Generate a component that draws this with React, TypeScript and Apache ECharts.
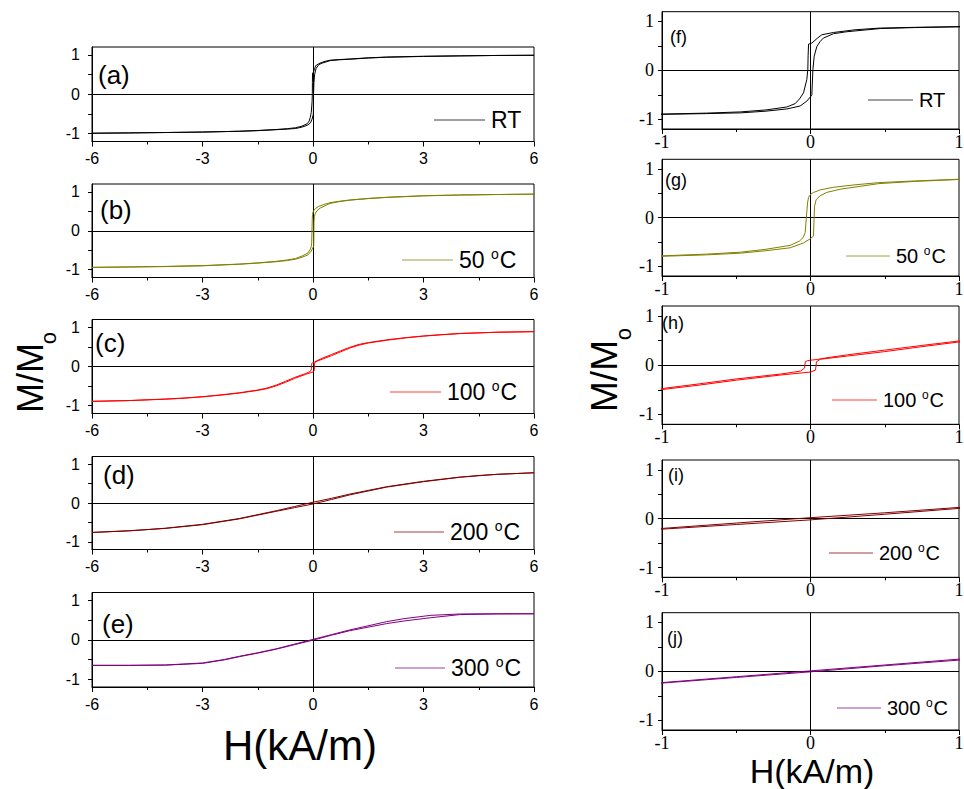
import React, { useEffect, useRef } from "react";
import * as echarts from "echarts";

type Pt = [number, number];

// ---------- data (H in kA/m, M/Mo) ----------
const rtUpper: Pt[] = [[6,0.99],[5,0.985],[4,0.975],[3,0.965],[2,0.945],[1.5,0.925],[1,0.895],[0.7,0.88],[0.46,0.864],[0.3,0.83],[0.155,0.775],[0.076,0.728],[0.047,0.66],[0.009,0.558],[-0.013,0.537],[-0.016,0.3],[-0.018,0.014],[-0.025,-0.19],[-0.047,-0.46],[-0.074,-0.585],[-0.103,-0.68],[-0.16,-0.75],[-0.3,-0.81],[-0.47,-0.85],[-0.7,-0.875],[-1,-0.895],[-1.5,-0.92],[-2,-0.94],[-3,-0.96],[-4,-0.972],[-5,-0.982],[-6,-0.99]];
const rtLower: Pt[] = [[-6,-0.99],[-5,-0.982],[-4,-0.972],[-3,-0.96],[-2,-0.94],[-1.5,-0.925],[-1,-0.9],[-0.7,-0.885],[-0.47,-0.87],[-0.3,-0.835],[-0.16,-0.79],[-0.07,-0.73],[-0.025,-0.63],[0,-0.54],[0.009,-0.5],[0.016,0.014],[0.025,0.29],[0.043,0.49],[0.065,0.59],[0.087,0.66],[0.155,0.75],[0.244,0.79],[0.47,0.855],[0.7,0.875],[1,0.89],[1.5,0.92],[2,0.94],[3,0.96],[4,0.975],[5,0.985],[6,0.99]];

const t50Upper: Pt[] = [[6,0.94],[5,0.93],[4,0.92],[3,0.9],[2,0.86],[1.5,0.83],[1,0.79],[0.7,0.755],[0.46,0.72],[0.3,0.675],[0.155,0.625],[0.065,0.57],[0.02,0.517],[0.002,0.483],[-0.013,0.42],[-0.02,0.3],[-0.036,-0.31],[-0.05,-0.41],[-0.074,-0.48],[-0.137,-0.57],[-0.3,-0.65],[-0.47,-0.71],[-0.7,-0.75],[-1,-0.785],[-1.5,-0.825],[-2,-0.855],[-3,-0.895],[-4,-0.915],[-5,-0.93],[-6,-0.94]];
const t50Lower: Pt[] = [[-6,-0.94],[-5,-0.93],[-4,-0.92],[-3,-0.9],[-2,-0.86],[-1.5,-0.83],[-1,-0.795],[-0.7,-0.765],[-0.47,-0.73],[-0.3,-0.68],[-0.137,-0.62],[-0.047,-0.52],[-0.002,-0.435],[0.02,-0.38],[0.027,0.23],[0.038,0.37],[0.065,0.45],[0.11,0.52],[0.2,0.585],[0.46,0.7],[0.7,0.745],[1,0.785],[1.5,0.825],[2,0.855],[3,0.895],[4,0.915],[5,0.93],[6,0.94]];

const t100Upper: Pt[] = [[6,0.89],[5,0.875],[4,0.845],[3.5,0.815],[3,0.78],[2.5,0.735],[2,0.68],[1.5,0.61],[1.25,0.565],[1,0.49],[0.75,0.4],[0.5,0.305],[0.25,0.21],[0.1,0.145],[0.045,0.115],[0,0.1],[-0.02,0.09],[-0.035,0.07],[-0.04,-0.06],[-0.067,-0.12],[-0.2,-0.18],[-0.5,-0.28],[-0.75,-0.38],[-1,-0.475],[-1.25,-0.55],[-1.5,-0.6],[-2,-0.67],[-2.5,-0.725],[-3,-0.77],[-3.5,-0.805],[-4,-0.83],[-5,-0.87],[-6,-0.89]];
const t100Lower: Pt[] = [[-6,-0.89],[-5,-0.87],[-4,-0.835],[-3.5,-0.81],[-3,-0.775],[-2.5,-0.73],[-2,-0.68],[-1.5,-0.61],[-1.25,-0.565],[-1,-0.495],[-0.75,-0.405],[-0.5,-0.305],[-0.2,-0.2],[-0.05,-0.155],[0,-0.14],[0.034,-0.1],[0.04,0.07],[0.067,0.12],[0.25,0.185],[0.5,0.275],[0.75,0.375],[1,0.47],[1.25,0.545],[1.5,0.6],[2,0.67],[2.5,0.73],[3,0.775],[3.5,0.81],[4,0.84],[5,0.875],[6,0.89]];

const t200Upper: Pt[] = [[6,0.78],[5,0.74],[4.5,0.71],[4,0.67],[3,0.56],[2,0.42],[1,0.23],[0.5,0.12],[0,0.02],[-0.5,-0.09],[-1,-0.2],[-2,-0.4],[-3,-0.55],[-4,-0.65],[-4.5,-0.685],[-5,-0.715],[-6,-0.76]];
const t200Lower: Pt[] = [[-6,-0.76],[-5,-0.72],[-4,-0.655],[-3,-0.56],[-2,-0.41],[-1,-0.215],[-0.5,-0.12],[0,-0.025],[0.5,0.09],[1,0.21],[2,0.41],[3,0.55],[4,0.665],[5,0.74],[6,0.78]];

const t300Upper: Pt[] = [[6,0.66],[5,0.66],[4,0.655],[3.2,0.62],[2.5,0.54],[2,0.46],[1,0.25],[0.5,0.13],[0,0.01],[-0.5,-0.11],[-1,-0.23],[-1.5,-0.33],[-2,-0.42],[-2.4,-0.5],[-3,-0.59],[-4,-0.64],[-5,-0.65],[-6,-0.65]];
const t300Lower: Pt[] = [[-6,-0.65],[-5,-0.65],[-4,-0.645],[-3,-0.6],[-2.4,-0.51],[-2,-0.43],[-1.5,-0.34],[-1,-0.24],[-0.5,-0.125],[0,-0.01],[0.5,0.115],[1,0.23],[2,0.41],[2.5,0.48],[3.2,0.56],[4,0.64],[5,0.655],[6,0.66]];

const seriesTemps = ["RT", "50 ", "100 ", "200 ", "300 "];
const seriesUnits = ["", "C", "C", "C", "C"];
const seriesColors = ["#000000", "#808000", "#ff0000", "#800000", "#800080"];
const upperBranches = [rtUpper, t50Upper, t100Upper, t200Upper, t300Upper];
const lowerBranches = [rtLower, t50Lower, t100Lower, t200Lower, t300Lower];
const leftPanelLabels = ["(a)", "(b)", "(c)", "(d)", "(e)"];
const rightPanelLabels = ["(f)", "(g)", "(h)", "(i)", "(j)"];

const leftXRange = [-6, 6];
const leftXStep = 3;
const rightXRange = [-1, 1];
const rightXStep = 1;
const yRange = [-1.2, 1.2];
const yTickValues = [-1, -0.5, 0, 0.5, 1];
const yLabelValues = [-1, 0, 1];
const xTitle = "H(kA/m)";
const yTitleMain = "M/M";
const yTitleSub = "o";

// ---------- layout ----------
const LEFT = { x: 92, w: 442, tops: [47, 184, 319.5, 456.5, 592.5], hs: [94.5, 93.5, 94, 93, 94.5] };
const RIGHT = { x: 662, w: 297, tops: [11.7, 159.3, 306, 460, 612.7], hs: [117.3, 116.7, 118.3, 117.3, 117.3] };
const leftPanelPos = [[98, 75], [100, 210], [95, 343], [103, 475], [102, 624]];
const rightPanelPos = [[670, 37], [665, 180], [662, 323], [668, 475], [667, 638]];
const leftLegend = [[434, 485, 120], [402, 453, 260], [390, 441, 392], [394, 444, 532], [395, 445, 668]];
const rightLegend = [[868, 913, 100], [846, 890, 256], [832, 877, 400], [829, 873, 553], [837, 881, 708]];

const SANS = "Liberation Sans, Arial, sans-serif";
const SERIF = "Liberation Serif";

function buildOption() {
  const grid: any[] = [];
  const xAxis: any[] = [];
  const yAxis: any[] = [];
  const series: any[] = [];
  const graphic: any[] = [];

  const addPanel = (col: "L" | "R", i: number) => {
    const isL = col === "L";
    const L = isL ? LEFT : RIGHT;
    const gi = grid.length;
    grid.push({
      left: L.x, top: L.tops[i], width: L.w, height: L.hs[i],
      show: true, borderColor: "#000", borderWidth: 1, backgroundColor: "transparent",
      containLabel: false, outerBoundsMode: "none",
    });
    const font = isL ? SANS : SERIF;
    const fs = isL ? 16 : 18;
    const xr = isL ? leftXRange : rightXRange;
    xAxis.push({
      gridIndex: gi, type: "value", min: xr[0], max: xr[1],
      interval: isL ? leftXStep : rightXStep,
      axisLine: { show: true, onZero: false, lineStyle: { color: "#000", width: 1 } },
      axisTick: { show: true, inside: false, length: 5, lineStyle: { color: "#000", width: 1 } },
      minorTick: { show: true, splitNumber: 2, length: 3, lineStyle: { color: "#000", width: 1 } },
      splitLine: { show: false }, minorSplitLine: { show: false },
      axisLabel: { color: "#000", fontSize: fs, fontFamily: font, fontWeight: "normal", margin: isL ? 9 : 4 },
    });
    yAxis.push({
      gridIndex: gi, type: "value", min: yRange[0], max: yRange[1],
      axisLine: { show: true, onZero: false, lineStyle: { color: "#000", width: 1 } },
      axisTick: { show: true, inside: false, length: 4, customValues: yTickValues, lineStyle: { color: "#000", width: 1 } },
      splitLine: { show: false },
      axisLabel: { color: "#000", fontSize: fs, fontFamily: font, fontWeight: "normal", margin: isL ? 12 : 8, customValues: yLabelValues },
    });
    const color = seriesColors[i];
    const common = {
      type: "line", xAxisIndex: gi, yAxisIndex: gi,
      showSymbol: false, symbol: "none", clip: true, silent: true,
      lineStyle: { color, width: 1 }, z: 3,
    };
    series.push({
      ...common, data: upperBranches[i],
      markLine: {
        silent: true, symbol: ["none", "none"], label: { show: false },
        lineStyle: { color: "#000", width: 1, type: "solid" },
        data: [{ xAxis: 0 }, { yAxis: 0 }], z: 2,
      },
    });
    series.push({ ...common, data: lowerBranches[i] });

    // panel label
    const pp = isL ? leftPanelPos[i] : rightPanelPos[i];
    graphic.push({
      type: "text", x: pp[0], y: pp[1], silent: true,
      style: {
        text: isL ? leftPanelLabels[i] : rightPanelLabels[i],
        font: `${isL ? 26 : 18}px ${SANS}`,
        fill: "#000", align: "left", verticalAlign: "middle",
        textAlign: "left", textVerticalAlign: "middle",
      },
    });
    // legend sample
    const lg = isL ? leftLegend[i] : rightLegend[i];
    graphic.push({
      type: "line", silent: true,
      shape: { x1: lg[0], y1: lg[2], x2: lg[1], y2: lg[2] },
      style: { stroke: color, lineWidth: 1, opacity: 0.75 },
    });
    const fsz = isL ? 23 : 20;
    const text = seriesUnits[i] ? `${seriesTemps[i]}{s|o}${seriesUnits[i]}` : seriesTemps[i];
    graphic.push({
      type: "text", x: lg[1] + 6, y: lg[2], silent: true,
      style: {
        text,
        fontSize: fsz, fontFamily: SANS,
        fill: "#000", align: "left", verticalAlign: "middle",
        textAlign: "left", textVerticalAlign: "middle",
        rich: {
          s: { fontSize: Math.round(fsz * 0.62), fontFamily: SANS, fill: "#000", padding: [0, 1, Math.round(fsz * 0.55), 0] },
        },
      },
    });
  };

  for (let i = 0; i < 5; i++) addPanel("L", i);
  for (let i = 0; i < 5; i++) addPanel("R", i);

  const txt = (text: string, x: number, y: number, size: number, rot = 0) => ({
    type: "text", x, y, rotation: rot, silent: true,
    style: {
      text, font: `${size}px ${SANS}`, fill: "#000",
      align: "center", verticalAlign: "middle", textAlign: "center", textVerticalAlign: "middle",
    },
  });

  // axis titles
  graphic.push(txt(yTitleMain, 30, 378, 36, Math.PI / 2));
  graphic.push(txt(yTitleSub, 48, 338, 22, Math.PI / 2));
  graphic.push(txt(yTitleMain, 604, 376, 37, Math.PI / 2));
  graphic.push(txt(yTitleSub, 623, 334, 22, Math.PI / 2));
  graphic.push(txt(xTitle, 300, 745, 42));
  graphic.push(txt(xTitle, 812, 771, 34));

  return {
    animation: false,
    backgroundColor: "#ffffff",
    grid, xAxis, yAxis, series, graphic,
  };
}

export default function App() {
  const ref = useRef<HTMLDivElement>(null);
  useEffect(() => {
    if (!ref.current) return;
    const chart = echarts.init(ref.current, undefined, { renderer: "svg" });
    chart.setOption(buildOption() as any);
    return () => chart.dispose();
  }, []);
  return (
    <div
      ref={ref}
      style={{ position: "fixed", left: 0, top: 0, width: 964, height: 789, background: "#fff" }}
    />
  );
}
